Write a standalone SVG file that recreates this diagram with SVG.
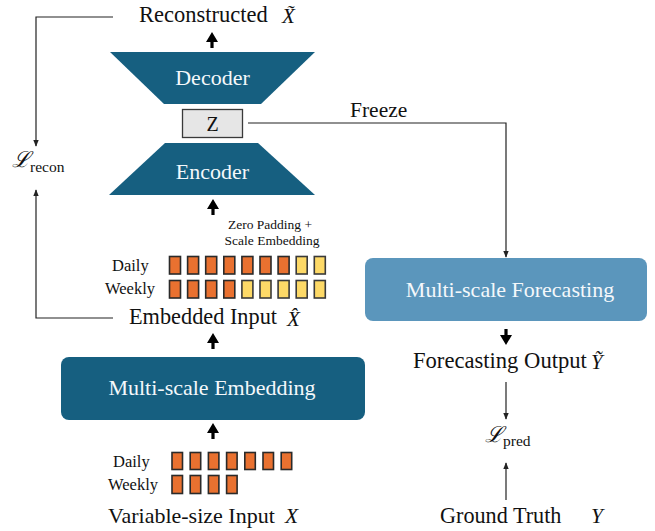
<svg xmlns="http://www.w3.org/2000/svg" width="655" height="531" viewBox="0 0 655 531">
<style>
  .t { font-family: "Liberation Serif", "Times New Roman", serif; fill: #111; }
  .w { font-family: "Liberation Serif", "Times New Roman", serif; fill: #f4f8fb; }
  .m { font-family: "Liberation Serif", "Times New Roman", serif; font-style: italic; fill: #111; }
  .cal { font-family: "DejaVu Serif", "Liberation Serif", serif; font-style: italic; fill: #111; }
  .dark { fill: #165f80; }
  .thin { fill: none; stroke: #222; stroke-width: 1.2; }
  .o { fill: #e97130; stroke: #2a2a2a; stroke-width: 1.6; }
  .y { fill: #fdd967; stroke: #3a3a3a; stroke-width: 1.6; }
  .big { fill: #000; }
</style>
<defs>
  <marker id="ah" viewBox="0 0 10 10" refX="9" refY="5" markerWidth="7" markerHeight="7" markerUnits="userSpaceOnUse" orient="auto">
    <path d="M0,1 L10,5 L0,9 z" fill="#222"/>
  </marker>
  <path id="bigup" d="M0,0 L6,10 L1.6,10 L1.6,16 L-1.6,16 L-1.6,10 L-6,10 z"/>
</defs>

<g id="connectors">
  <polyline class="thin" points="113,17 36,17 36,146" marker-end="url(#ah)"/>
  <polyline class="thin" points="113,318 36,318 36,190" marker-end="url(#ah)"/>
  <polyline class="thin" points="248,123 506,123 506,257" marker-end="url(#ah)"/>
  <line class="thin" x1="506" y1="382" x2="506" y2="419" marker-end="url(#ah)"/>
  <line class="thin" x1="506" y1="500" x2="506" y2="463" marker-end="url(#ah)"/>
  <use href="#bigup" class="big" x="212" y="32"/>
  <use href="#bigup" class="big" x="213" y="199"/>
  <use href="#bigup" class="big" x="213" y="333"/>
  <use href="#bigup" class="big" x="213" y="423"/>
  <use href="#bigup" class="big" transform="translate(506,345) rotate(180)"/>
</g>

<g id="reconstructed">
  <text class="t" x="139" y="22" font-size="22.5">Reconstructed</text>
  <text class="m" x="282" y="23" font-size="21">X̃</text>
</g>

<g id="decoder">
  <polygon class="dark" points="110,52 315,52 261,104 164,104"/>
  <text class="w" x="212.5" y="85" font-size="22" text-anchor="middle">Decoder</text>
</g>

<g id="z">
  <rect x="182.5" y="109.5" width="60" height="28" fill="#e6e6e6" stroke="#3a3a3a" stroke-width="1.3"/>
  <text class="t" x="212.5" y="131" font-size="20" text-anchor="middle">Z</text>
</g>

<g id="encoder">
  <polygon class="dark" points="165,143 258,143 315,195 109,195"/>
  <text class="w" x="212.5" y="179" font-size="22" text-anchor="middle">Encoder</text>
</g>

<g id="freeze-label">
  <text class="t" x="350" y="117" font-size="21.5">Freeze</text>
</g>

<g id="l-recon">
  <text class="cal" x="12" y="167" font-size="22">ℒ</text>
  <text class="t" x="30" y="172" font-size="15.5">recon</text>
</g>

<g id="padding-label">
  <text class="t" x="270" y="229" font-size="13.5" text-anchor="middle">Zero Padding +</text>
  <text class="t" x="272" y="245" font-size="13.5" text-anchor="middle">Scale Embedding</text>
</g>

<g id="embedded-array">
  <text class="t" x="112" y="271" font-size="16.5">Daily</text>
  <text class="t" x="105" y="294" font-size="16.5">Weekly</text>
  <rect class="o" x="169.5" y="256.5" width="11" height="17.5"/>
  <rect class="o" x="187.6" y="256.5" width="11" height="17.5"/>
  <rect class="o" x="205.7" y="256.5" width="11" height="17.5"/>
  <rect class="o" x="223.8" y="256.5" width="11" height="17.5"/>
  <rect class="o" x="241.9" y="256.5" width="11" height="17.5"/>
  <rect class="o" x="260.0" y="256.5" width="11" height="17.5"/>
  <rect class="o" x="278.1" y="256.5" width="11" height="17.5"/>
  <rect class="y" x="296.2" y="256.5" width="11" height="17.5"/>
  <rect class="y" x="314.3" y="256.5" width="11" height="17.5"/>
  <rect class="o" x="169.5" y="280.5" width="11" height="17.5"/>
  <rect class="o" x="187.6" y="280.5" width="11" height="17.5"/>
  <rect class="o" x="205.7" y="280.5" width="11" height="17.5"/>
  <rect class="o" x="223.8" y="280.5" width="11" height="17.5"/>
  <rect class="y" x="241.9" y="280.5" width="11" height="17.5"/>
  <rect class="y" x="260.0" y="280.5" width="11" height="17.5"/>
  <rect class="y" x="278.1" y="280.5" width="11" height="17.5"/>
  <rect class="y" x="296.2" y="280.5" width="11" height="17.5"/>
  <rect class="y" x="314.3" y="280.5" width="11" height="17.5"/>
</g>

<g id="embedded-input">
  <text class="t" x="129" y="324" font-size="22.3">Embedded Input</text>
  <text class="m" x="287" y="326" font-size="21">X̂</text>
</g>

<g id="multi-scale-embedding">
  <rect class="dark" x="61" y="357" width="304" height="63" rx="8"/>
  <text class="w" x="212" y="395" font-size="22" text-anchor="middle">Multi-scale Embedding</text>
</g>

<g id="input-array">
  <text class="t" x="113" y="467" font-size="16.5">Daily</text>
  <text class="t" x="108" y="490" font-size="16.5">Weekly</text>
  <rect class="o" x="172" y="452.5" width="10.5" height="17"/>
  <rect class="o" x="190.2" y="452.5" width="10.5" height="17"/>
  <rect class="o" x="208.4" y="452.5" width="10.5" height="17"/>
  <rect class="o" x="226.6" y="452.5" width="10.5" height="17"/>
  <rect class="o" x="244.8" y="452.5" width="10.5" height="17"/>
  <rect class="o" x="263.0" y="452.5" width="10.5" height="17"/>
  <rect class="o" x="281.2" y="452.5" width="10.5" height="17"/>
  <rect class="o" x="172" y="475.5" width="10.5" height="18"/>
  <rect class="o" x="190.2" y="475.5" width="10.5" height="18"/>
  <rect class="o" x="208.4" y="475.5" width="10.5" height="18"/>
  <rect class="o" x="226.6" y="475.5" width="10.5" height="18"/>
</g>

<g id="variable-input">
  <text class="t" x="108" y="523" font-size="22">Variable-size Input</text>
  <text class="m" x="285" y="523" font-size="21.5">X</text>
</g>

<g id="multi-scale-forecasting">
  <rect x="365" y="258" width="282" height="63" rx="8" fill="#5b96bc"/>
  <text class="w" x="510" y="297" font-size="22" text-anchor="middle">Multi-scale Forecasting</text>
</g>

<g id="forecasting-output">
  <text class="t" x="413" y="368" font-size="22.6">Forecasting Output</text>
  <text class="m" x="591" y="369" font-size="21">Ỹ</text>
</g>

<g id="l-pred">
  <text class="cal" x="485" y="442" font-size="22">ℒ</text>
  <text class="t" x="503" y="446" font-size="15.5">pred</text>
</g>

<g id="ground-truth">
  <text class="t" x="440" y="523" font-size="22.2">Ground Truth</text>
  <text class="m" x="591" y="523" font-size="21.5">Y</text>
</g>
</svg>
